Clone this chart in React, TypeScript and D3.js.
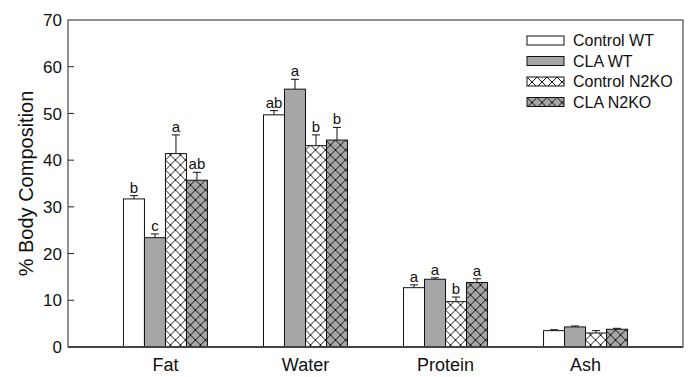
import * as d3 from "d3";

const WIDTH = 690;
const HEIGHT = 377;
const PLOT = { left: 68, right: 683, top: 20, bottom: 347 };

// data
const categories = ["Fat", "Water", "Protein", "Ash"];
const seriesNames = ["Control WT", "CLA WT", "Control N2KO", "CLA N2KO"];
const controlWT = [31.7, 49.7, 12.7, 3.5];
const claWT = [23.4, 55.2, 14.5, 4.3];
const controlN2KO = [41.4, 43.1, 9.7, 3.0];
const claN2KO = [35.7, 44.3, 13.8, 3.8];
const controlWTErr = [0.7, 0.9, 0.6, 0.2];
const claWTErr = [0.8, 2.1, 0.3, 0.2];
const controlN2KOErr = [4.0, 2.3, 1.0, 0.5];
const claN2KOErr = [1.7, 2.7, 0.8, 0.2];
const controlWTSig = ["b", "ab", "a", ""];
const claWTSig = ["c", "a", "a", ""];
const controlN2KOSig = ["a", "b", "b", ""];
const claN2KOSig = ["ab", "b", "a", ""];
const yTicks = [0, 10, 20, 30, 40, 50, 60, 70];

const values = [controlWT, claWT, controlN2KO, claN2KO];
const errors = [controlWTErr, claWTErr, controlN2KOErr, claN2KOErr];
const sigs = [controlWTSig, claWTSig, controlN2KOSig, claN2KOSig];

const GREY = "#a6a6a6";
const fills = ["#ffffff", GREY, "url(#hatchWhite)", "url(#hatchGrey)"];
const FONT = "Arial, 'Liberation Sans', sans-serif";

export default function App() {
  const y = d3.scaleLinear().domain([0, 70]).range([PLOT.bottom, PLOT.top]);
  const x = d3
    .scalePoint()
    .domain(categories)
    .range([PLOT.left, PLOT.right])
    .padding(0.696);
  const inner = d3.scaleBand().domain(seriesNames).range([-42, 42]).padding(0);
  const bw = inner.bandwidth();

  return (
    <svg
      width={WIDTH}
      height={HEIGHT}
      style={{ position: "absolute", left: 0, top: 0, background: "#fff" }}
      fontFamily={FONT}>
      <defs>
        {["hatchWhite", "hatchGrey"].map((id, i) => (
          <pattern key={id} id={id} width={10} height={10} patternUnits="userSpaceOnUse">
            <rect width={10} height={10} fill={i === 0 ? "#fff" : GREY} />
            <path d="M0,0L10,10M10,0L0,10" stroke="#000" strokeWidth={0.9} />
          </pattern>
        ))}
      </defs>

      {/* frame */}
      <rect
        x={PLOT.left}
        y={PLOT.top}
        width={PLOT.right - PLOT.left}
        height={PLOT.bottom - PLOT.top}
        fill="none"
        stroke="#222"
        strokeWidth={1}
      />

      {/* y ticks */}
      {yTicks.map((t) => (
        <g key={t}>
          {t > 0 && t < 70 && (
            <line x1={PLOT.left} x2={PLOT.left + 6} y1={y(t)} y2={y(t)} stroke="#222" />
          )}
          <text
            x={PLOT.left - 6}
            y={y(t)}
            dy="0.36em"
            textAnchor="end"
            fontSize={17}
            fill="#111">
            {t}
          </text>
        </g>
      ))}

      {/* bars */}
      {categories.map((c, ci) => (
        <g key={c} transform={`translate(${x(c)},0)`}>
          {seriesNames.map((s, si) => {
            const v = values[si][ci];
            const e = errors[si][ci];
            const bx = inner(s) as number;
            const cx = bx + bw / 2;
            const top = y(v);
            const capY = y(v + e);
            return (
              <g key={s}>
                <rect
                  x={bx}
                  y={top}
                  width={bw}
                  height={PLOT.bottom - top}
                  fill={fills[si]}
                  stroke="#111"
                  strokeWidth={1}
                />
                <line x1={cx} x2={cx} y1={top} y2={capY} stroke="#111" />
                <line x1={cx - 4} x2={cx + 4} y1={capY} y2={capY} stroke="#111" />
                {sigs[si][ci] && (
                  <text x={cx} y={capY - 3} textAnchor="middle" fontSize={15} fill="#111">
                    {sigs[si][ci]}
                  </text>
                )}
              </g>
            );
          })}
          <text x={0} y={371} textAnchor="middle" fontSize={18} fill="#111">
            {c}
          </text>
        </g>
      ))}

      {/* bottom axis */}
      <line
        x1={PLOT.left}
        x2={PLOT.right}
        y1={PLOT.bottom}
        y2={PLOT.bottom}
        stroke="#444"
        strokeWidth={2}
      />

      {/* y label */}
      <text
        transform={`translate(33,${(PLOT.top + PLOT.bottom) / 2}) rotate(-90)`}
        textAnchor="middle"
        fontSize={20}
        fill="#111">
        % Body Composition
      </text>

      {/* legend */}
      {seriesNames.map((s, i) => (
        <g key={s} transform={`translate(527,${36 + i * 20.5})`}>
          <rect width={37} height={9} fill={fills[i]} stroke="#111" />
          <text x={46} y={4.5} dy="0.36em" fontSize={16} fill="#111">
            {s}
          </text>
        </g>
      ))}
    </svg>
  );
}
